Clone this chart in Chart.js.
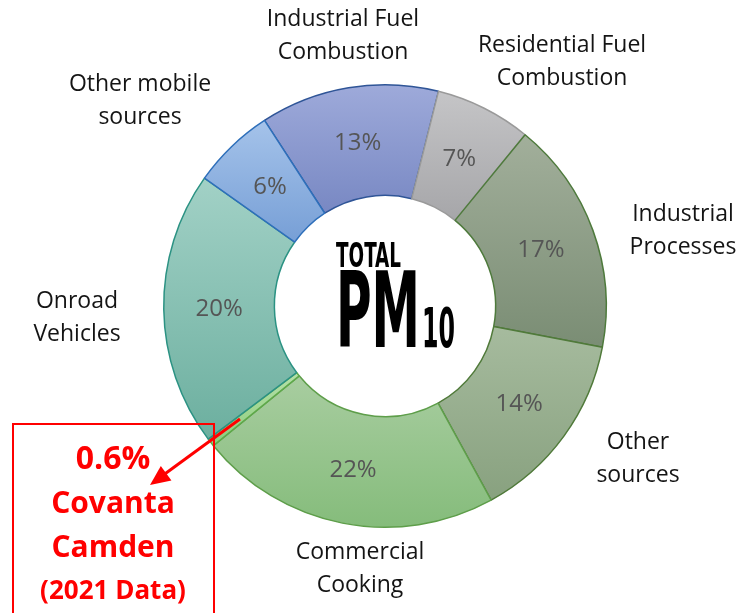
<!DOCTYPE html>
<html>
<head>
<meta charset="utf-8">
<script src="https://cdn.jsdelivr.net/npm/chart.js@4.4.1/dist/chart.umd.min.js"></script>
<style>
    body { margin: 0; background: #fff; }
    #wrap { position: relative; width: 737px; height: 613px; overflow: hidden; font-family: "Open Sans", sans-serif; }
    #pmChart { position: absolute; left: 0; top: 0; }
    .cat-label {
        position: absolute;
        transform: translateX(-50%);
        font-size: 23px;
        line-height: 33px;
        color: #141414;
        text-align: center;
        white-space: nowrap;
    }
    #callout {
        position: absolute;
        left: 12px; top: 423px;
        width: 199px; height: 220px;
        border: 2px solid #ff0000;
    }
    .callout-line {
        position: absolute;
        left: 113px;
        transform: translate(-50%, -50%);
        color: #ff0000;
        font-weight: bold;
        white-space: nowrap;
    }
</style>
</head>
<body>
<div id="wrap">
    <canvas id="pmChart" width="737" height="613"></canvas>

    <div class="cat-label" style="left:343px; top:1px;">Industrial Fuel<br>Combustion</div>
    <div class="cat-label" style="left:562px; top:27px;">Residential Fuel<br>Combustion</div>
    <div class="cat-label" style="left:140px; top:66px;">Other mobile<br>sources</div>
    <div class="cat-label" style="left:683px; top:196px;">Industrial<br>Processes</div>
    <div class="cat-label" style="left:77px; top:283px;">Onroad<br>Vehicles</div>
    <div class="cat-label" style="left:638px; top:424px;">Other<br>sources</div>
    <div class="cat-label" style="left:360px; top:534px;">Commercial<br>Cooking</div>

    <div id="callout"></div>
    <div class="callout-line" style="top:456px; font-size:32px;">0.6%</div>
    <div class="callout-line" style="top:501px; font-size:30px;">Covanta</div>
    <div class="callout-line" style="top:545px; font-size:30px;">Camden</div>
    <div class="callout-line" style="top:589px; font-size:26px;">(2021 Data)</div>
</div>

<script>
// source categories, clockwise from the top
const sources = [
    'Industrial Fuel Combustion',
    'Residential Fuel Combustion',
    'Industrial Processes',
    'Other sources',
    'Commercial Cooking',
    'Covanta Camden',
    'Onroad Vehicles',
    'Other mobile sources'
];
// share of total PM10 (%)
const shares = [13, 7, 17, 14, 22, 0.6, 20, 6];
// labels printed inside the ring (Covanta is called out separately)
const shareLabels = ['13%', '7%', '17%', '14%', '22%', '', '20%', '6%'];

const lightColors = ['#9eaada', '#c5c5c7', '#a2af9b', '#a6bb9e', '#a8cda0', '#b5e0a8', '#a2d1c6', '#a5c3ea'];
const darkColors  = ['#7888c3', '#a6a6a9', '#7a8d74', '#88a17f', '#85bc7b', '#8ccd7d', '#6caf9f', '#779fd6'];
const edgeColors  = ['#2f5597', '#9a9a9a', '#4e7a3c', '#507a3a', '#5e9e4a', '#5ea84a', '#2b9283', '#2e6fba'];

const ROTATION = -33;
const CUTOUT = 0.5;

// vertical light->dark gradient over the extent of each slice
function sliceFill(context) {
    const i = context.dataIndex;
    const chart = context.chart;
    const area = chart.chartArea;
    if (!area) return lightColors[i];

    const cx = (area.left + area.right) / 2;
    const cy = (area.top + area.bottom) / 2;
    const R = Math.min(area.width, area.height) / 2;
    const r = R * CUTOUT;

    const total = shares.reduce((a, b) => a + b, 0);
    const before = shares.slice(0, i).reduce((a, b) => a + b, 0);
    const start = -Math.PI / 2 + ROTATION * Math.PI / 180 + before / total * 2 * Math.PI;
    const end = start + shares[i] / total * 2 * Math.PI;

    let minY = Infinity, maxY = -Infinity;
    for (let k = 0; k <= 24; k++) {
        const a = start + (end - start) * k / 24;
        [r, R].forEach(rad => {
            const y = cy + rad * Math.sin(a);
            minY = Math.min(minY, y);
            maxY = Math.max(maxY, y);
        });
    }
    const g = chart.ctx.createLinearGradient(0, minY, 0, maxY);
    g.addColorStop(0, lightColors[i]);
    g.addColorStop(1, darkColors[i]);
    return g;
}

const sliceLabels = {
    id: 'sliceLabels',
    afterDatasetsDraw(chart) {
        const ctx = chart.ctx;
        const meta = chart.getDatasetMeta(0);
        ctx.save();
        ctx.font = '24px "Open Sans", sans-serif';
        ctx.fillStyle = '#555555';
        ctx.textAlign = 'center';
        ctx.textBaseline = 'middle';
        meta.data.forEach((arc, i) => {
            if (!shareLabels[i]) return;
            const p = arc.tooltipPosition();
            ctx.fillText(shareLabels[i], p.x, p.y + 1);
        });
        ctx.restore();
    }
};

// squeeze text into a given cap height and width (poster-style lettering)
function fitText(ctx, text, x, baseline, capH, width) {
    const size = capH / 0.73;
    ctx.font = `bold ${size}px "DejaVu Sans Condensed", "DejaVu Sans", sans-serif`;
    const w = ctx.measureText(text).width;
    ctx.save();
    ctx.translate(x, baseline);
    ctx.scale(width / w, 1);
    ctx.fillText(text, 0, 0);
    ctx.restore();
}

const centerTitle = {
    id: 'centerTitle',
    afterDraw(chart) {
        const ctx = chart.ctx;
        ctx.save();
        ctx.fillStyle = '#000';
        ctx.textAlign = 'left';
        ctx.textBaseline = 'alphabetic';
        fitText(ctx, 'TOTAL', 336, 267, 24, 65);
        fitText(ctx, 'PM', 336, 347, 77, 84);
        fitText(ctx, '10', 422, 347, 40, 33);

        // callout arrow to the Covanta slice
        ctx.strokeStyle = '#ff0000';
        ctx.fillStyle = '#ff0000';
        ctx.lineWidth = 3;
        ctx.beginPath();
        ctx.moveTo(240, 419);
        ctx.lineTo(162, 476);
        ctx.stroke();
        const ang = Math.atan2(485 - 419, 150 - 240);
        ctx.beginPath();
        ctx.moveTo(150, 485);
        ctx.lineTo(150 - 20 * Math.cos(ang) + 9 * Math.sin(ang), 485 - 20 * Math.sin(ang) - 9 * Math.cos(ang));
        ctx.lineTo(150 - 20 * Math.cos(ang) - 9 * Math.sin(ang), 485 - 20 * Math.sin(ang) + 9 * Math.cos(ang));
        ctx.closePath();
        ctx.fill();
        ctx.restore();
    }
};

new Chart(document.getElementById('pmChart'), {
    type: 'doughnut',
    data: {
        labels: sources,
        datasets: [{
            data: shares,
            backgroundColor: sliceFill,
            borderColor: edgeColors,
            borderWidth: 1.5
        }]
    },
    options: {
        responsive: false,
        animation: false,
        rotation: ROTATION,
        cutout: (CUTOUT * 100) + '%',
        layout: { padding: { left: 163, right: 130, top: 84, bottom: 85 } },
        plugins: {
            legend: { display: false },
            tooltip: { enabled: false }
        }
    },
    plugins: [sliceLabels, centerTitle]
});
</script>
</body>
</html>
